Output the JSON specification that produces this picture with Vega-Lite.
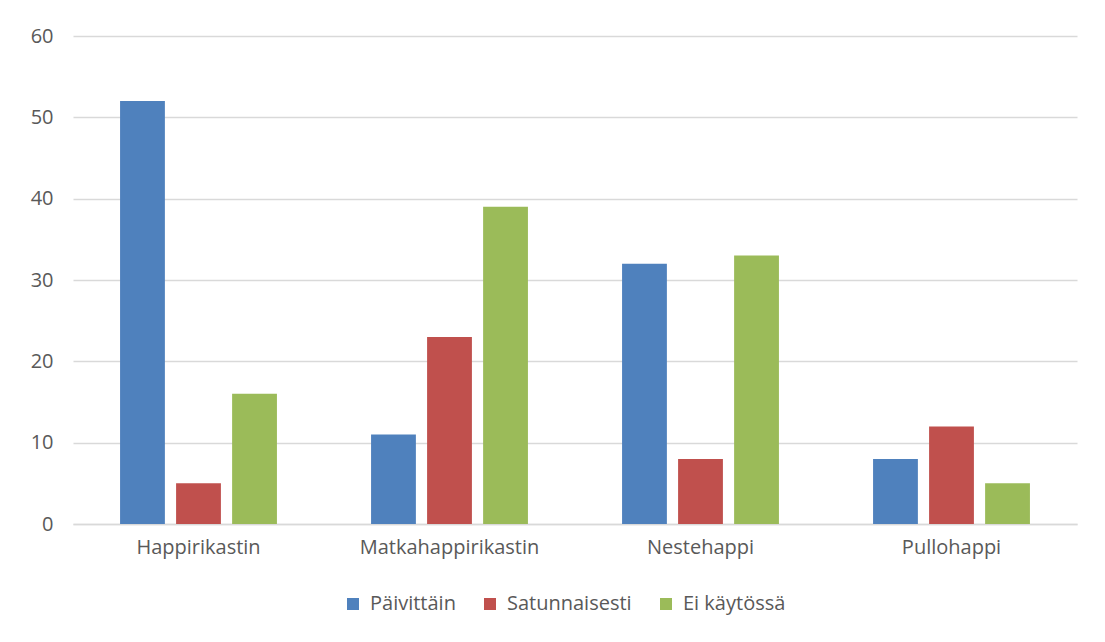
{
  "$schema": "https://vega.github.io/schema/vega-lite/v6.json",
  "autosize": {"type": "none"},
  "width": 1004,
  "height": 488,
  "padding": {"left": 73, "top": 36, "right": 28, "bottom": 118},
  "background": "white",
  "data": {
    "values": [
      {"laite": "Happirikastin", "kaytto": "Päivittäin", "n": 52},
      {"laite": "Happirikastin", "kaytto": "Satunnaisesti", "n": 5},
      {"laite": "Happirikastin", "kaytto": "Ei käytössä", "n": 16},
      {"laite": "Matkahappirikastin", "kaytto": "Päivittäin", "n": 11},
      {"laite": "Matkahappirikastin", "kaytto": "Satunnaisesti", "n": 23},
      {"laite": "Matkahappirikastin", "kaytto": "Ei käytössä", "n": 39},
      {"laite": "Nestehappi", "kaytto": "Päivittäin", "n": 32},
      {"laite": "Nestehappi", "kaytto": "Satunnaisesti", "n": 8},
      {"laite": "Nestehappi", "kaytto": "Ei käytössä", "n": 33},
      {"laite": "Pullohappi", "kaytto": "Päivittäin", "n": 8},
      {"laite": "Pullohappi", "kaytto": "Satunnaisesti", "n": 12},
      {"laite": "Pullohappi", "kaytto": "Ei käytössä", "n": 5}
    ]
  },
  "mark": {"type": "bar"},
  "encoding": {
    "x": {
      "field": "laite",
      "type": "nominal",
      "sort": null,
      "title": null,
      "scale": {"paddingInner": 0.375, "paddingOuter": 0.1875},
      "axis": {
        "labelAngle": 0,
        "ticks": false,
        "domainColor": "#d9d9d9",
        "domainWidth": 1.5,
        "labelFont": "Open Sans",
        "labelFontSize": 20,
        "labelColor": "#595959",
        "labelPadding": 13
      }
    },
    "xOffset": {
      "field": "kaytto",
      "type": "nominal",
      "sort": ["Päivittäin", "Satunnaisesti", "Ei käytössä"],
      "scale": {"paddingInner": 0.2, "paddingOuter": 0}
    },
    "y": {
      "field": "n",
      "type": "quantitative",
      "title": null,
      "scale": {"domain": [0, 60]},
      "axis": {
        "values": [0, 10, 20, 30, 40, 50, 60],
        "domain": false,
        "ticks": false,
        "gridColor": "#d9d9d9",
        "gridWidth": 1.5,
        "labelFont": "Open Sans",
        "labelFontSize": 20,
        "labelColor": "#595959",
        "labelPadding": 20
      }
    },
    "color": {
      "field": "kaytto",
      "type": "nominal",
      "sort": ["Päivittäin", "Satunnaisesti", "Ei käytössä"],
      "scale": {
        "domain": ["Päivittäin", "Satunnaisesti", "Ei käytössä"],
        "range": ["#4f81bd", "#c0504d", "#9bbb59"]
      },
      "legend": {
        "title": null,
        "orient": "none",
        "legendX": 270,
        "legendY": 558,
        "direction": "horizontal",
        "symbolType": "square",
        "symbolSize": 144,
        "symbolStrokeWidth": 0,
        "labelOffset": 7,
        "labelFont": "Open Sans",
        "labelFontSize": 20,
        "labelColor": "#595959",
        "columnPadding": 24
      }
    }
  },
  "config": {
    "view": {"stroke": null}
  }
}
